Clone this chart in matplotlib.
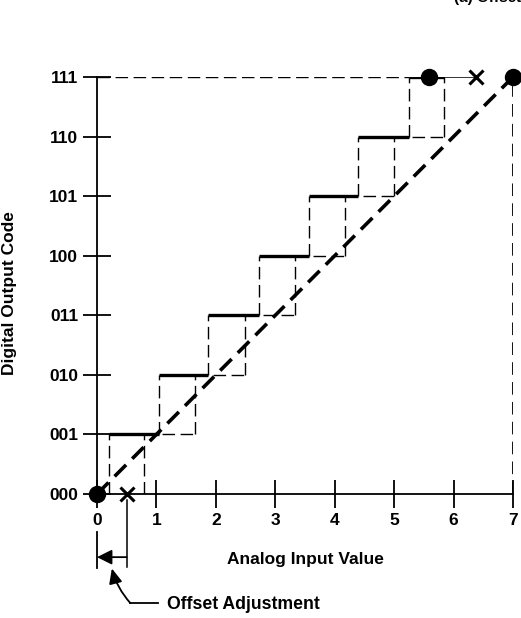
import matplotlib
matplotlib.use("Agg")
import matplotlib.pyplot as plt

plt.rcParams["font.family"] = ["Liberation Sans", "DejaVu Sans"]
plt.rcParams["font.weight"] = "bold"

# Output codes on the vertical axis, analog input on the horizontal axis
codes = ["000", "001", "010", "011", "100", "101", "110", "111"]
levels = [0, 1, 2, 3, 4, 5, 6, 7]
inputs = [0, 1, 2, 3, 4, 5, 6, 7]

# Transition edges of the converter staircase (start / end of each code change)
lower_edges = [0.20, 1.04, 1.87, 2.73, 3.57, 4.40, 5.25]
upper_edges = [0.79, 1.65, 2.49, 3.33, 4.17, 5.00, 5.84]

# Ideal transfer line, end points
ideal_x = [0, 7]
ideal_y = [0, 7]

# Marked points
dots_x = [0, 5.59, 7]
dots_y = [0, 7, 7]
cross_x = [0.5, 6.37]
cross_y = [0, 7]

THIN = dict(color="black", lw=1.0, dashes=(9, 4))

fig = plt.figure(figsize=(5.21, 6.18), dpi=100)
ax = fig.add_axes([97 / 521, 124 / 618, 416 / 521, 417 / 618])
ax.set_xlim(0, 7)
ax.set_ylim(0, 7)
for side in ("top", "right"):
    ax.spines[side].set_visible(False)
for side in ("left", "bottom"):
    ax.spines[side].set_linewidth(1.3)

ax.set_xticks(inputs)
ax.set_xticklabels([str(v) for v in inputs])
ax.set_yticks(levels)
ax.set_yticklabels(codes)
ax.tick_params(direction="inout", length=20, width=1.3, labelsize=12.5, pad=3.5)
ax.tick_params(axis="x", pad=4)

# top reference line at full-scale code
ax.plot([0, lower_edges[-1]], [7, 7], **THIN)
ax.plot([upper_edges[-1], cross_x[1]], [7, 7], color="black", lw=1.1)
ax.plot([7, 7], [0, 7], color="black", lw=1.3, dashes=(7, 4))

# dashed staircase (late edges) and its risers
for k in range(1, 7):
    ax.plot([upper_edges[k - 1], upper_edges[k]], [k, k], **THIN)
for k in range(7):
    ax.plot([upper_edges[k], upper_edges[k]], [k, k + 1], **THIN)
    ax.plot([lower_edges[k], lower_edges[k]], [k, k + 1], **THIN)

# solid staircase treads
for k in range(1, 7):
    ax.plot([lower_edges[k - 1], lower_edges[k]], [k, k], color="black",
            lw=2.4, solid_capstyle="butt")
ax.plot([lower_edges[-1], upper_edges[-1]], [7, 7], color="black",
        lw=2.4, solid_capstyle="butt")

# ideal transfer line
ax.plot(ideal_x, ideal_y, color="black", lw=2.6, dashes=(4.5, 2.4))

ax.plot(dots_x, dots_y, "o", color="black", ms=11.5, clip_on=False, zorder=5)
ax.plot(cross_x, cross_y, "x", color="black", ms=10, mew=2.2,
        clip_on=False, zorder=5)

ax.set_xlabel("Analog Input Value", fontsize=12.5, fontweight="bold")
ax.xaxis.set_label_coords(0.5, -0.139)
ax.set_ylabel("Digital Output Code", fontsize=12.5, fontweight="bold")
ax.yaxis.set_label_coords(-0.192, 0.482)

# offset adjustment marker below the axis
ax.plot([0, 0], [-0.64, -1.24], color="black", lw=1.3, clip_on=False)
ax.plot([0.5, 0.5], [-0.1, -1.23], color="black", lw=1.1, clip_on=False)
ax.annotate("", xy=(0.0, -1.06), xytext=(0.5, -1.06),
            arrowprops=dict(arrowstyle="-|>,head_length=0.9,head_width=0.45",
                            color="black", lw=1.3, shrinkA=0, shrinkB=0),
            annotation_clip=False)
ax.annotate("", xy=(0.25, -1.25), xytext=(0.56, -1.83),
            arrowprops=dict(arrowstyle="-|>,head_length=0.9,head_width=0.4",
                            color="black", lw=1.3, shrinkA=0, shrinkB=0,
                            connectionstyle="arc3,rad=-0.12"),
            annotation_clip=False)
ax.plot([0.56, 1.03], [-1.83, -1.83], color="black", lw=1.3, clip_on=False)
ax.text(1.18, -1.86, "Offset Adjustment", fontsize=12.7, fontweight="bold",
        ha="left", va="center", clip_on=False)

# panel caption, running off the top edge
fig.text(0.872, 1 - 2 / 618, "(a) Offset", fontsize=11, fontweight="bold",
         ha="left", va="baseline")

fig.savefig("out.png", dpi=100)
